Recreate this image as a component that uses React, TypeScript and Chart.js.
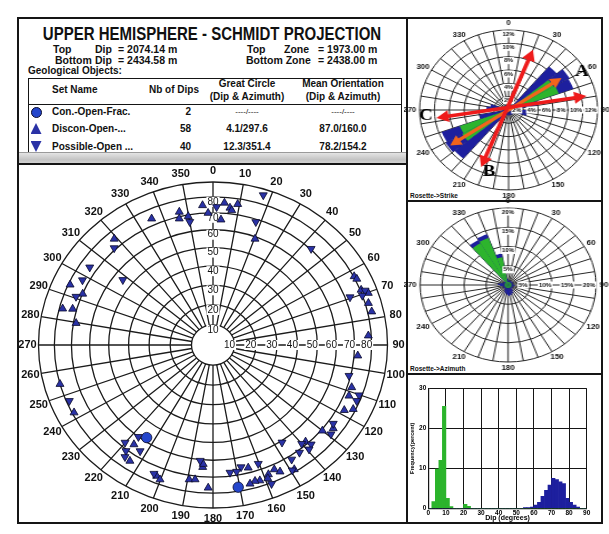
import React, { useEffect, useRef } from "react";
import { Chart, registerables } from "chart.js";

Chart.register(...registerables);

const SANS = "'Liberation Sans', Arial, Helvetica, sans-serif";
const SERIF = "'Liberation Serif', 'Times New Roman', Times, serif";

/* ---------------- header / table ---------------- */
const titleText = "UPPER HEMISPHERE - SCHMIDT PROJECTION";
const dipTop = "2074.14 m";
const dipBottom = "2434.58 m";
const zoneTop = "1973.00 m";
const zoneBottom = "2438.00 m";
const setNames = ["Con.-Open-Frac.", "Discon-Open-...", "Possible-Open ..."];
const nbDips = ["2", "58", "40"];
const greatCircle = ["----/----", "4.1/297.6", "12.3/351.4"];
const meanOrientation = ["----/----", "87.0/160.0", "78.2/154.2"];

/* ---------------- stereonet (dip azimuth / dip, degrees) ---------------- */
const conAzimuth = [170.6, 213.8];
const conDip = [77.4, 57.8];
const disconAzimuth = [
  356, 358, 335.6, 346.7, 346, 349.8, 319, 294.3, 292.8, 284.5, 285.4, 279.7,
  4.3, 6.6, 7.4, 9.3, 3.4, 20.3, 62.5, 63.8, 68.3, 70.3, 73.9, 77.3,
  86.3, 94.5, 108.1, 111.8, 116.1, 118, 126.6, 130, 138.2, 148.6, 165, 155.3,
  153.7, 158.2, 159, 162.1, 163.9, 166, 181.8, 184.5, 184.4, 189.4, 187.1,
  254.7, 242.5, 216.6, 213.8, 201.9, 200.2,
];
const disconDip = [
  74.8, 69.9, 74, 72.8, 68.8, 69.1, 75.2, 78.9, 69.9, 78, 72.3, 68.5,
  76.4, 73.6, 72.2, 76.5, 66, 58.8, 80.3, 81, 80.5, 83.9, 81.9, 82.5,
  78.2, 72.1, 72.5, 72.8, 78.5, 74.1, 74.7, 70.7, 68.5, 78.4, 66.9, 72.9,
  75.6, 74.4, 76.6, 76.3, 75.8, 76.7, 76.6, 64.2, 62.4, 72.5, 72,
  80, 78.8, 65, 74.5, 75.5, 76.9,
];
const possibleAzimuth = [
  350, 316.4, 304, 298, 307.7, 290.7, 1.4, 17.4, 18, 43.6, 69, 70.5,
  69.5, 103.6, 110.2, 112.6, 125, 129, 146.5, 140, 137.3, 139.3, 143.1, 147.3,
  149.4, 160.4, 167.9, 172.9, 170.1, 158.5, 185.9, 247.4, 217.2, 220.1, 212.7, 217.5,
  216.3, 203.2,
];
const possibleDip = [
  65.7, 71, 74.1, 73.6, 55, 72.8, 73.6, 85.9, 68.3, 70.4, 82.6, 79.9,
  72.7, 69.1, 78.2, 78.2, 73, 75.9, 60.9, 68, 71.8, 73.3, 71.4, 72.3,
  78.3, 66.3, 65.6, 67.8, 67.8, 80.7, 60.6, 78.2, 60, 67.2, 66.3, 70.8,
  74.1, 74.8,
];
const stereoAzLabels = [
  "0", "10", "20", "30", "40", "50", "60", "70", "80", "90", "100", "110",
  "120", "130", "140", "150", "160", "170", "180", "190", "200", "210", "220", "230",
  "240", "250", "260", "270", "280", "290", "300", "310", "320", "330", "340", "350",
];
const stereoDipRings = [10, 20, 30, 40, 50, 60, 70, 80, 90];
const stereoDipLabels = ["10", "20", "30", "40", "50", "60", "70", "80"];

/* ---------------- rosettes (10 degree bins, percent) ---------------- */
const roseBins = stereoAzLabels;
const roseDirLabels = ["0", "30", "60", "90", "120", "150", "180", "210", "240", "270", "300", "330"];
const strikeBlue = [
  0.8, 0.8, 0.8, 0.8, 8.5, 9.5, 9.3, 4, 0.8, 2.8, 2.5, 0.8,
  0.8, 0.8, 0.8, 0.8, 0.8, 0.8, 0.8, 0.8, 0.8, 0.8, 9.5, 9.8,
  9.6, 4, 0.8, 3, 2.5, 0.8, 0.8, 0.8, 0.8, 0.8, 0.8, 0.8,
];
const strikeGreen = [
  0, 0, 0, 0, 0, 7, 7.2, 0, 0, 0, 0, 0,
  0, 0, 0, 0, 0, 0, 0, 0, 0, 0, 0, 7.2,
  7, 0, 0, 0, 0, 0, 0, 0, 0, 0, 0, 0,
];
const strikeTicks = [2, 4, 6, 8, 10, 12];
const azimuthBlue = [
  1.2, 1.2, 1.2, 1.2, 1.2, 1.2, 1.2, 1.2, 1.2, 1.5, 1.2, 1.2,
  1.2, 1.2, 1.8, 2.3, 2.6, 2.8, 2.5, 2.2, 1.8, 1.2, 1.2, 1.2,
  1.2, 1.2, 1.8, 2.3, 1.8, 1.2, 1.2, 1.2, 13.5, 14, 8.3, 1.6,
];
const azimuthGreen = [
  0.8, 0.8, 0.8, 0.8, 0.8, 0.8, 0.8, 0.8, 0.8, 0.8, 0.8, 0.8,
  0.8, 0.8, 0.8, 0.8, 0.8, 0.8, 0.8, 0.8, 0.8, 0.8, 0.8, 0.8,
  0.8, 0.8, 0.8, 0.8, 0.8, 0.8, 0.8, 0.8, 12.5, 13, 7.3, 0.8,
];
const azimuthTicks = [5, 10, 15, 20];
// strike arrows: two ends (azimuth, percent)
const arrowKind = ["orange", "red", "red"];
const arrowAz1 = [56, 78.7, 20];
const arrowR1 = [8.6, 10.7, 9.6];
const arrowAz2 = [236, 263, 203.4];
const arrowR2 = [9.5, 9.8, 9.3];
const letterText = ["A", "B", "C"];
const letterAz = [60, 196, 265.4];
const letterR = [11.4, 9.6, 11.2];

/* ---------------- dip histogram (2 degree bins) ---------------- */
const dipBinCenters = [
  1, 3, 5, 7, 9, 11, 13, 15, 17, 19, 21, 23, 25, 27, 29, 31, 33, 35, 37, 39, 41, 43, 45,
  47, 49, 51, 53, 55, 57, 59, 61, 63, 65, 67, 69, 71, 73, 75, 77, 79, 81, 83, 85, 87, 89,
];
const histGreen = [
  0, 1.7, 9.8, 12, 25.5, 2.5, 0.4, 0, 0, 0, 1.0, 0.5, 0, 0, 0, 0, 0, 0, 0, 0, 0, 0, 0,
  0, 0, 0, 0, 0, 0, 0, 0, 0, 0, 0, 0, 0, 0, 0, 0, 0, 0, 0, 0, 0, 0,
];
const histBlue = [
  0, 0, 0, 0, 0, 0, 0, 0, 0, 0, 0, 0, 0, 0, 0, 0, 0, 0, 0, 0, 0, 0, 0,
  0, 0, 0, 0, 0.2, 0.2, 0.3, 0.8, 1.5, 3.0, 4.5, 5.8, 7.5, 7.2, 6.6, 6.2, 2.5, 1.5, 0.8, 0.3, 0, 0,
];

/* ---------------- helpers ---------------- */
const rad = (d: number) => (d * Math.PI) / 180;
// Schmidt equal-area projection, normalised so that dip 90 -> 1
const proj = (dip: number) => Math.SQRT2 * Math.sin(rad(dip) / 2);
const toXY = (az: number[], dip: number[]) =>
  az.map((a, i) => {
    const r = proj(dip[i]);
    return { x: r * Math.sin(rad(a)), y: r * Math.cos(rad(a)) };
  });

const stereoGrid = {
  id: "stereoGrid",
  beforeDatasetsDraw(chart: any) {
    const { ctx } = chart;
    const xs = chart.scales.x;
    const ys = chart.scales.y;
    const cx = xs.getPixelForValue(0);
    const cy = ys.getPixelForValue(0);
    const kx = xs.getPixelForValue(1) - cx;
    const ky = cy - ys.getPixelForValue(1);
    ctx.save();
    ctx.strokeStyle = "#1b1b1b";
    ctx.lineWidth = 1.3;
    for (const d of stereoDipRings) {
      const r = proj(d);
      ctx.beginPath();
      ctx.ellipse(cx, cy, r * kx, r * ky, 0, 0, Math.PI * 2);
      ctx.stroke();
    }
    const r0 = proj(stereoDipRings[0]);
    const r1 = proj(stereoDipRings[stereoDipRings.length - 1]);
    ctx.beginPath();
    for (const lab of stereoAzLabels) {
      const t = rad(+lab);
      const s = Math.sin(t);
      const c = Math.cos(t);
      ctx.moveTo(cx + r0 * kx * s, cy - r0 * ky * c);
      ctx.lineTo(cx + r1 * kx * s, cy - r1 * ky * c);
    }
    ctx.stroke();
    ctx.textAlign = "center";
    ctx.textBaseline = "middle";
    ctx.fillStyle = "#111";
    ctx.font = `bold 11px ${SANS}`;
    for (const lab of stereoAzLabels) {
      const t = rad(+lab);
      ctx.fillText(lab, cx + (kx + 11) * Math.sin(t), cy - (ky + 11) * Math.cos(t));
    }
    ctx.font = `10px ${SANS}`;
    for (const lab of stereoDipLabels) {
      const r = proj(+lab);
      const w = ctx.measureText(lab).width;
      const nx = cx;
      const ny = cy - r * ky + 5;
      ctx.fillStyle = "#fff";
      ctx.fillRect(nx - w / 2 - 1, ny - 5, w + 2, 10);
      ctx.fillStyle = "#111";
      ctx.fillText(lab, nx, ny);
      const ex = cx + r * kx - 5;
      const ey = cy;
      ctx.fillStyle = "#fff";
      ctx.fillRect(ex - w / 2 - 1, ey - 5, w + 2, 10);
      ctx.fillStyle = "#111";
      ctx.fillText(lab, ex, ey);
    }
    ctx.restore();
  },
};

function drawArrow(ctx: any, x1: number, y1: number, x2: number, y2: number, color: string, lw: number, head: number, hw: number) {
  const a = Math.atan2(y2 - y1, x2 - x1);
  const ca = Math.cos(a);
  const sa = Math.sin(a);
  ctx.strokeStyle = color;
  ctx.fillStyle = color;
  ctx.lineWidth = lw;
  ctx.beginPath();
  ctx.moveTo(x1 + ca * head * 0.8, y1 + sa * head * 0.8);
  ctx.lineTo(x2 - ca * head * 0.8, y2 - sa * head * 0.8);
  ctx.stroke();
  const tips: [number, number, number][] = [
    [x2, y2, a],
    [x1, y1, a + Math.PI],
  ];
  for (const [tx, ty, d] of tips) {
    const c = Math.cos(d);
    const s = Math.sin(d);
    ctx.beginPath();
    ctx.moveTo(tx, ty);
    ctx.lineTo(tx - c * head - s * hw, ty - s * head + c * hw);
    ctx.lineTo(tx - c * head + s * hw, ty - s * head - c * hw);
    ctx.closePath();
    ctx.fill();
  }
}

function makeRoseDecor(ticks: number[], withArrows: boolean) {
  return {
    id: "roseDecor",
    afterDraw(chart: any) {
      const s = chart.scales.r;
      const ctx = chart.ctx;
      const cx = s.xCenter;
      const cy = s.yCenter;
      const R = s.drawingArea;
      const pt = (az: number, v: number) => {
        const d = s.getDistanceFromCenterForValue(v);
        return [cx + d * Math.sin(rad(az)), cy - d * Math.cos(rad(az))];
      };
      ctx.save();
      ctx.textAlign = "center";
      ctx.textBaseline = "middle";
      ctx.font = `bold 5.5px ${SANS}`;
      for (const t of ticks) {
        const d = s.getDistanceFromCenterForValue(t);
        const lab = `${t}%`;
        const w = ctx.measureText(lab).width;
        const ny = cy - d + 4;
        ctx.fillStyle = "#fff";
        ctx.fillRect(cx - w / 2 - 1, ny - 3.5, w + 2, 7);
        ctx.fillStyle = "#111";
        ctx.fillText(lab, cx, ny);
        const ex = cx + d - 6;
        ctx.fillStyle = "#fff";
        ctx.fillRect(ex - w / 2 - 1, cy - 3.5, w + 2, 7);
        ctx.fillStyle = "#111";
        ctx.fillText(lab, ex, cy);
      }
      ctx.font = `bold 7px ${SANS}`;
      for (const lab of roseDirLabels) {
        const t = rad(+lab);
        const w = ctx.measureText(lab).width;
        const x = cx + (R + 3) * Math.sin(t) + Math.sin(t) * (w / 2);
        const y = cy - (R + 3) * Math.cos(t) - Math.cos(t) * 3.5;
        ctx.fillText(lab, x, y);
      }
      if (withArrows) {
        for (let i = 0; i < arrowKind.length; i++) {
          const [x1, y1] = pt(arrowAz1[i], arrowR1[i]);
          const [x2, y2] = pt(arrowAz2[i], arrowR2[i]);
          if (arrowKind[i] === "orange") drawArrow(ctx, x2, y2, x1, y1, "#f2641c", 3.2, 10, 5.5);
          else drawArrow(ctx, x2, y2, x1, y1, "#ee1b1b", 3.6, 11, 6);
        }
        ctx.fillStyle = "#000";
        ctx.font = `bold 17px ${SERIF}`;
        for (let i = 0; i < letterText.length; i++) {
          const [x, y] = pt(letterAz[i], letterR[i]);
          ctx.fillText(letterText[i], x, y);
        }
      }
      ctx.restore();
    },
  };
}

function roseConfig(blue: number[], green: number[], max: number, step: number, ticks: number[], withArrows: boolean, pad: number): any {
  return {
    type: "polarArea",
    data: {
      labels: roseBins,
      datasets: [
        { data: green, backgroundColor: "#2db42d", borderWidth: 0, order: 0 },
        { data: blue, backgroundColor: "#1d1f9e", borderWidth: 0, order: 1 },
      ],
    },
    options: {
      responsive: false,
      animation: false,
      events: [],
      layout: { padding: pad },
      plugins: { legend: { display: false }, tooltip: { enabled: false } },
      scales: {
        r: {
          min: 0,
          max,
          z: 1,
          ticks: { display: false, stepSize: step },
          grid: { circular: true, color: "#262626", lineWidth: 1 },
          angleLines: { display: true, color: "#262626", lineWidth: 1 },
          pointLabels: { display: false },
        },
      },
    },
    plugins: [makeRoseDecor(ticks, withArrows)],
  };
}

function Txt(p: { x: number; y: number; size: number; children: any; align?: string; weight?: number; sy?: number }) {
  const tx = p.align === "center" ? "-50%" : p.align === "right" ? "-100%" : "0";
  return (
    <div
      style={{
        position: "absolute",
        left: p.x,
        top: p.y,
        transform: `translate(${tx}, -50%) scaleY(${p.sy ?? 1})`,
        fontSize: p.size,
        fontWeight: p.weight ?? 700,
        fontFamily: SANS,
        whiteSpace: "nowrap",
        lineHeight: 1,
        color: "#111",
      }}
    >
      {p.children}
    </div>
  );
}

const boxStyle = (l: number, t: number, w: number, h: number, bw = 2): any => ({
  position: "absolute",
  left: l,
  top: t,
  width: w,
  height: h,
  border: `${bw}px solid #151515`,
  boxSizing: "border-box",
});

export default function App() {
  const stereoRef = useRef<HTMLCanvasElement>(null);
  const strikeRef = useRef<HTMLCanvasElement>(null);
  const azRef = useRef<HTMLCanvasElement>(null);
  const histRef = useRef<HTMLCanvasElement>(null);

  useEffect(() => {
    const ptBlue = "#2a32a6";
    const stereo = new Chart(stereoRef.current as HTMLCanvasElement, {
      type: "scatter",
      data: {
        datasets: [
          {
            data: toXY(possibleAzimuth, possibleDip),
            pointStyle: "triangle",
            pointRotation: 180,
            pointRadius: 4.6,
            pointBackgroundColor: ptBlue,
            pointBorderColor: "#0a0a2a",
            pointBorderWidth: 0.8,
            clip: false,
          } as any,
          {
            data: toXY(disconAzimuth, disconDip),
            pointStyle: "triangle",
            pointRadius: 4.6,
            pointBackgroundColor: ptBlue,
            pointBorderColor: "#0a0a2a",
            pointBorderWidth: 0.8,
            clip: false,
          } as any,
          {
            data: toXY(conAzimuth, conDip),
            pointStyle: "circle",
            pointRadius: 5.2,
            pointBackgroundColor: "#2446cc",
            pointBorderColor: "#0a0a2a",
            pointBorderWidth: 0.8,
            clip: false,
          } as any,
        ],
      },
      options: {
        responsive: false,
        animation: false,
        events: [],
        layout: { padding: { left: 19.5, right: 17.5, top: 32, bottom: 14 } },
        scales: {
          x: { type: "linear", min: -1, max: 1, display: false },
          y: { type: "linear", min: -1, max: 1, display: false },
        },
        plugins: { legend: { display: false }, tooltip: { enabled: false } },
      },
      plugins: [stereoGrid],
    });

    const strike = new Chart(strikeRef.current as HTMLCanvasElement, roseConfig(strikeBlue, strikeGreen, 12, 2, strikeTicks, true, 14));
    const azim = new Chart(azRef.current as HTMLCanvasElement, roseConfig(azimuthBlue, azimuthGreen, 20, 5, azimuthTicks, false, 14));

    const tickFont = { size: 6.5, weight: "bold" as const, family: SANS };
    const hist = new Chart(histRef.current as HTMLCanvasElement, {
      type: "bar",
      data: {
        datasets: [
          {
            data: dipBinCenters.map((x, i) => ({ x, y: histGreen[i] })),
            backgroundColor: "#2bb42b",
            grouped: false,
            barPercentage: 1,
            categoryPercentage: 1,
          } as any,
          {
            data: dipBinCenters.map((x, i) => ({ x, y: histBlue[i] })),
            backgroundColor: "#1d1f9e",
            grouped: false,
            barPercentage: 1,
            categoryPercentage: 1,
          } as any,
        ],
      },
      options: {
        responsive: false,
        animation: false,
        events: [],
        layout: { padding: { left: 0, right: 14.3, top: 12.3, bottom: 0 } },
        plugins: { legend: { display: false }, tooltip: { enabled: false } },
        scales: {
          x: {
            type: "linear",
            min: 0,
            max: 90,
            offset: false,
            ticks: { stepSize: 10, font: tickFont, color: "#000", padding: 1, maxRotation: 0, autoSkip: false },
            grid: { offset: false, color: "#151515", lineWidth: 1, drawTicks: false },
            border: { color: "#151515", width: 1.2 },
            title: { display: true, text: "Dip (degrees)", font: { size: 7, weight: "bold", family: SANS }, color: "#000", padding: 0 },
            afterFit: (sc: any) => {
              sc.height = 13.7;
            },
          } as any,
          y: {
            min: 0,
            max: 30,
            ticks: { stepSize: 10, font: tickFont, color: "#000", padding: 2 },
            grid: { color: "#151515", lineWidth: 1, drawTicks: false },
            border: { color: "#151515", width: 1.2 },
            title: { display: true, text: "Frequency(percent)", font: { size: 5.5, weight: "bold", family: SANS }, color: "#000", padding: 0 },
            afterFit: (sc: any) => {
              sc.width = 19.3;
            },
          } as any,
        },
      },
    });

    return () => {
      stereo.destroy();
      strike.destroy();
      azim.destroy();
      hist.destroy();
    };
  }, []);

  const rowY = [112, 128.5, 146.5];
  const sym = (y: number, kind: string) => {
    const base: any = { position: "absolute", left: 30.5, top: y - 5.5, width: 11, height: 11, background: "#2446cc" };
    if (kind === "circle") return <div key={kind} style={{ ...base, borderRadius: "50%", border: "1px solid #0a0a2a", boxSizing: "border-box" }} />;
    if (kind === "up") return <div key={kind} style={{ ...base, background: "#2a32a6", clipPath: "polygon(50% 0, 100% 100%, 0 100%)" }} />;
    return <div key={kind} style={{ ...base, background: "#2a32a6", clipPath: "polygon(0 0, 100% 0, 50% 100%)" }} />;
  };

  // strike rose: centre (509,110), rx 89, ry 80 ; azimuth rose: centre (508,285), rx 88, ry 77
  const sPad = 14;
  const sR = 80;
  const sSx = 89 / 80;
  const aR = 77;
  const aSx = 88 / 77;

  return (
    <div style={{ position: "absolute", left: 0, top: 0, width: 609, height: 534, background: "#fff", overflow: "hidden", fontFamily: SANS }}>
      {/* frames */}
      <div style={boxStyle(17, 17, 391, 507)} />
      <div style={boxStyle(406, 17, 197, 185)} />
      <div style={boxStyle(406, 200, 197, 175)} />
      <div style={boxStyle(406, 373, 197, 151)} />

      {/* header */}
      <Txt x={212} y={33} size={15} align="center" sy={1.2}>{titleText}</Txt>
      <Txt x={53} y={49} size={10.5}>Top</Txt>
      <Txt x={95} y={49} size={10.5}>Dip</Txt>
      <Txt x={118} y={49} size={10.5}>= {dipTop}</Txt>
      <Txt x={55} y={60} size={10.5}>Bottom</Txt>
      <Txt x={95} y={60} size={10.5}>Dip</Txt>
      <Txt x={118} y={60} size={10.5}>= {dipBottom}</Txt>
      <Txt x={247} y={49} size={10.5}>Top</Txt>
      <Txt x={284} y={49} size={10.5}>Zone</Txt>
      <Txt x={318} y={49} size={10.5}>= {zoneTop}</Txt>
      <Txt x={246} y={60} size={10.5}>Bottom Zone</Txt>
      <Txt x={318} y={60} size={10.5}>= {zoneBottom}</Txt>
      <Txt x={28} y={71} size={10}>Geological Objects:</Txt>

      <div style={boxStyle(28, 78, 374, 80, 1.5)} />
      <div style={{ position: "absolute", left: 28, top: 103.5, width: 374, height: 1.5, background: "#151515" }} />
      <Txt x={52} y={90} size={10}>Set Name</Txt>
      <Txt x={149} y={90} size={10}>Nb of Dips</Txt>
      <Txt x={247} y={83.5} size={10} align="center">Great Circle</Txt>
      <Txt x={247} y={97} size={10} align="center">(Dip &amp; Azimuth)</Txt>
      <Txt x={343} y={83.5} size={10} align="center">Mean Orientation</Txt>
      <Txt x={343} y={97} size={10} align="center">(Dip &amp; Azimuth)</Txt>
      {sym(rowY[0], "circle")}
      {sym(rowY[1], "up")}
      {sym(rowY[2], "down")}
      {setNames.map((n, i) => (
        <Txt key={"n" + i} x={52} y={rowY[i]} size={10}>{n}</Txt>
      ))}
      {nbDips.map((n, i) => (
        <Txt key={"c" + i} x={191} y={rowY[i]} size={10} align="right">{n}</Txt>
      ))}
      {greatCircle.map((n, i) => (
        <Txt key={"g" + i} x={247} y={rowY[i]} size={i === 0 ? 8 : 10} weight={i === 0 ? 400 : 700} align="center">{n}</Txt>
      ))}
      {meanOrientation.map((n, i) => (
        <Txt key={"m" + i} x={343} y={rowY[i]} size={i === 0 ? 8 : 10} weight={i === 0 ? 400 : 700} align="center">{n}</Txt>
      ))}

      {/* grey separator */}
      <div style={{ position: "absolute", left: 19, top: 152, width: 387, height: 11, background: "linear-gradient(#e4e4e4, #c4c4c4 60%, #d6d6d6)", borderTop: "1px solid #9a9a9a" }} />
      <div style={{ position: "absolute", left: 17, top: 163, width: 391, height: 2, background: "#151515" }} />

      {/* panel captions */}
      <Txt x={410} y={196} size={6.5}>Rosette-&gt;Strike</Txt>
      <Txt x={410} y={369} size={6.5}>Rosette-&gt;Azimuth</Txt>

      <canvas ref={stereoRef} width={386} height={372} style={{ position: "absolute", left: 19, top: 150 }} />
      <canvas
        ref={strikeRef}
        width={2 * (sR + sPad)}
        height={2 * (sR + sPad)}
        style={{ position: "absolute", left: 509 - (sR + sPad) * sSx, top: 110 - (sR + sPad), transform: `scaleX(${sSx})`, transformOrigin: "0 0" }}
      />
      <canvas
        ref={azRef}
        width={2 * (aR + sPad)}
        height={2 * (aR + sPad)}
        style={{ position: "absolute", left: 508 - (aR + sPad) * aSx, top: 285 - (aR + sPad), transform: `scaleX(${aSx})`, transformOrigin: "0 0" }}
      />
      <canvas ref={histRef} width={192} height={146} style={{ position: "absolute", left: 409, top: 376 }} />
    </div>
  );
}
